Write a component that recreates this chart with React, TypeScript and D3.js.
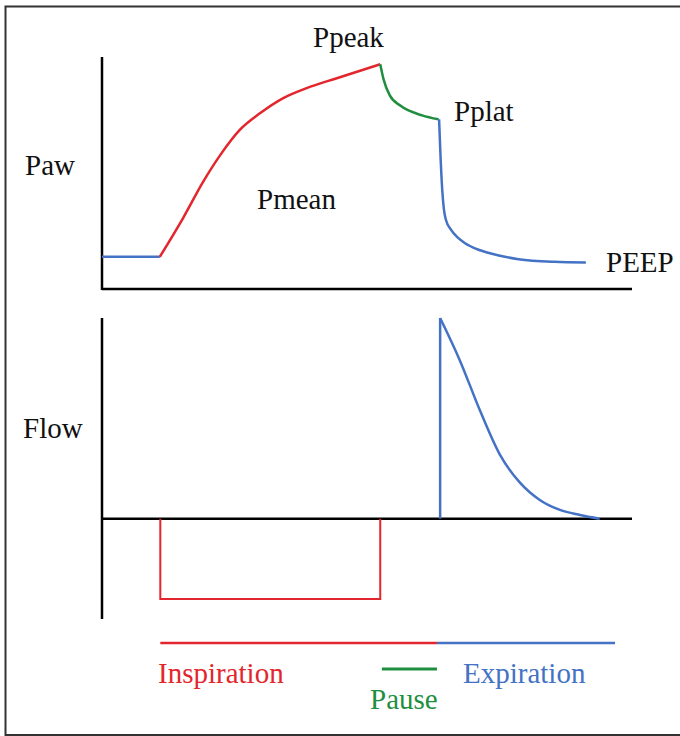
import React from "react";
import * as d3 from "d3";

// time axis in arbitrary units (0..100)
const pawBaseline: [number, number][] = [[0, 4.85], [10.9, 4.85]];
const pawInspiration: [number, number][] = [
  [10.9, 4.85], [15.3, 10.7], [19.1, 16.2], [22.3, 20.2], [26.0, 24.0], [29.8, 26.5],
  [34.2, 28.8], [38.6, 30.3], [44.3, 31.8], [52.5, 33.9],
];
const pawPause: [number, number][] = [
  [52.5, 33.9], [53.1, 31.7], [54.3, 29.2], [56.4, 27.6], [60.4, 26.2], [63.5, 25.6],
];
const pawExpiration: [number, number][] = [
  [63.6, 25.6], [63.9, 19.5], [64.2, 14.9], [64.5, 12.1], [64.9, 10.4], [65.8, 9.0],
  [67.2, 7.7], [68.5, 6.9], [70.8, 6.0], [73.2, 5.4], [78.6, 4.5], [85.3, 4.1], [91.3, 4.0],
];
const flowInspiration: [number, number][] = [[11, 0], [11, -0.8], [52.5, -0.8], [52.5, 0]];
const flowExpSpike: [number, number][] = [[63.8, 0], [63.8, 2.0]];
const flowExpiration: [number, number][] = [
  [63.8, 2.0], [67.5, 1.58], [71.3, 1.08], [75.1, 0.635], [78.9, 0.356],
  [82.6, 0.186], [86.4, 0.087], [90.2, 0.037], [93.9, 0.0],
];
const phaseLines = [
  { name: "Inspiration", start: 11, end: 63.2, color: "#e3262d" },
  { name: "Expiration", start: 63.2, end: 96.8, color: "#4472c4" },
];
const pauseLine = { name: "Pause", start: 52.8, end: 63.2, color: "#1f8f3f" };
const pawLabels = ["Ppeak", "Pplat", "Pmean", "PEEP"];
const axisLabels = ["Paw", "Flow"];

const RED = "#e3262d";
const GREEN = "#1f8f3f";
const BLUE = "#4472c4";
const FONT = "Liberation Serif, Times New Roman, DejaVu Serif, serif";

export default function App() {
  const x = d3.scaleLinear().domain([0, 100]).range([102, 632]);
  const yPaw = d3.scaleLinear().domain([0, 35]).range([289, 57]);
  const yFlow = d3.scaleLinear().domain([-1, 2]).range([619, 318]);

  const pawLine = d3.line<[number, number]>().x((d) => x(d[0])).y((d) => yPaw(d[1])).curve(d3.curveMonotoneX);
  const pawLin = d3.line<[number, number]>().x((d) => x(d[0])).y((d) => yPaw(d[1]));
  const flowLine = d3.line<[number, number]>().x((d) => x(d[0])).y((d) => yFlow(d[1])).curve(d3.curveMonotoneX);
  const flowLin = d3.line<[number, number]>().x((d) => x(d[0])).y((d) => yFlow(d[1]));

  const fs = 29;
  const txt = { fontFamily: FONT, fontSize: fs };
  return (
    <svg width={680} height={736} style={{ position: "absolute", left: 0, top: 0, display: "block", background: "#fff" }}>
      <rect x={5.5} y={6.5} width={700} height={728.5} fill="#fff" stroke="#333" strokeWidth={2} />

      {/* Paw axes */}
      <line x1={x(0)} x2={x(0)} y1={yPaw(35)} y2={yPaw(0) + 1} stroke="#000" strokeWidth={2.5} />
      <line x1={x(0)} x2={x(100)} y1={yPaw(0)} y2={yPaw(0)} stroke="#000" strokeWidth={2.5} />

      <path d={pawLin(pawBaseline) || ""} fill="none" stroke={BLUE} strokeWidth={2.5} />
      <path d={pawLine(pawInspiration) || ""} fill="none" stroke={RED} strokeWidth={2.5} />
      <path d={pawLine(pawPause) || ""} fill="none" stroke={GREEN} strokeWidth={2.5} />
      <path d={pawLine(pawExpiration) || ""} fill="none" stroke={BLUE} strokeWidth={2.5} />

      {/* Flow axes */}
      <line x1={x(0)} x2={x(0)} y1={yFlow(2)} y2={yFlow(-1)} stroke="#000" strokeWidth={2.5} />
      <line x1={x(0)} x2={x(100)} y1={yFlow(0)} y2={yFlow(0)} stroke="#000" strokeWidth={2.5} />

      <path d={flowLin(flowInspiration) || ""} fill="none" stroke={RED} strokeWidth={2} />
      <path d={flowLin(flowExpSpike) || ""} fill="none" stroke={BLUE} strokeWidth={2.5} />
      <path d={flowLine(flowExpiration) || ""} fill="none" stroke={BLUE} strokeWidth={2.5} />

      {/* labels */}
      <g fill="#111">
        <text style={txt} x={25} y={175}>{axisLabels[0]}</text>
        <text style={txt} x={23} y={438}>{axisLabels[1]}</text>
        <text style={txt} x={313} y={47}>{pawLabels[0]}</text>
        <text style={txt} x={454} y={121}>{pawLabels[1]}</text>
        <text style={txt} x={257} y={209}>{pawLabels[2]}</text>
        <text style={txt} x={606} y={272}>{pawLabels[3]}</text>
      </g>

      {/* phase legend */}
      {phaseLines.map((p) => (
        <line key={p.name} x1={x(p.start)} x2={x(p.end)} y1={643} y2={643} stroke={p.color} strokeWidth={2.5} />
      ))}
      <line x1={x(pauseLine.start)} x2={x(pauseLine.end)} y1={669} y2={669} stroke={pauseLine.color} strokeWidth={3} />
      <text style={txt} x={158} y={683} fill={RED}>{phaseLines[0].name}</text>
      <text style={txt} x={463} y={683} fill={BLUE}>{phaseLines[1].name}</text>
      <text style={txt} x={370} y={709} fill={GREEN}>{pauseLine.name}</text>
    </svg>
  );
}
